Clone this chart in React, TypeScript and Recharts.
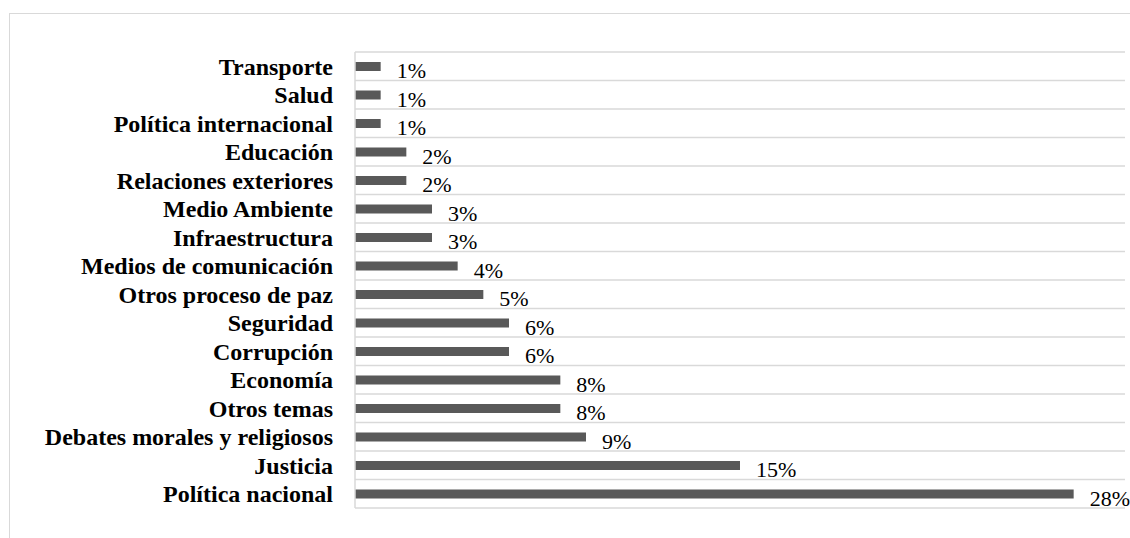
import { BarChart, Bar, XAxis, YAxis, CartesianGrid, LabelList } from "recharts";

const categories = [
  "Transporte",
  "Salud",
  "Política internacional",
  "Educación",
  "Relaciones exteriores",
  "Medio Ambiente",
  "Infraestructura",
  "Medios de comunicación",
  "Otros proceso de paz",
  "Seguridad",
  "Corrupción",
  "Economía",
  "Otros temas",
  "Debates morales y religiosos",
  "Justicia",
  "Política nacional",
];

const percentages = [1, 1, 1, 2, 2, 3, 3, 4, 5, 6, 6, 8, 8, 9, 15, 28];

const chartData = categories.map((name, i) => ({ name, value: percentages[i] }));

const FONT = '"Liberation Serif", "Times New Roman", serif';
const GRID = "#d9d9d9";

// lines between the categories, not through their centres
const bandLines = ({ offset }: any) => {
  const n = categories.length;
  const step = offset.height / n;
  return Array.from({ length: n + 1 }, (_, i) => offset.top + i * step);
};

export default function App() {
  return (
    <div
      style={{
        position: "fixed",
        left: 0,
        top: 0,
        width: 1130,
        height: 538,
        overflow: "hidden",
        background: "#fff",
      }}
    >
      <div
        style={{
          position: "absolute",
          left: 9,
          top: 13,
          width: 1200,
          height: 600,
          border: `1px solid ${GRID}`,
        }}
      />
      <div style={{ position: "absolute", left: 0, top: 0 }}>
        <BarChart
          width={1130}
          height={538}
          data={chartData}
          layout="vertical"
          margin={{ top: 52, right: 5, bottom: 30, left: 0 }}
          barCategoryGap={0}
        >
          <CartesianGrid
            vertical={false}
            stroke={GRID}
            strokeWidth={1.5}
            horizontalCoordinatesGenerator={bandLines}
          />
          <XAxis type="number" domain={[0, 30]} hide />
          <YAxis
            type="category"
            dataKey="name"
            width={355}
            axisLine={{ stroke: GRID, strokeWidth: 1.5 }}
            tickLine={false}
            interval={0}
            tickMargin={16}
            tick={{ fill: "#000", fontFamily: FONT, fontSize: 24, fontWeight: "bold" }}
          />
          <Bar dataKey="value" fill="#595959" barSize={9} isAnimationActive={false}>
            <LabelList
              dataKey="value"
              position="right"
              offset={16}
              formatter={(v: any) => `${v}%`}
              style={{ fill: "#000", fontFamily: FONT, fontSize: 22 }}
              dy={4}
            />
          </Bar>
        </BarChart>
      </div>
    </div>
  );
}
